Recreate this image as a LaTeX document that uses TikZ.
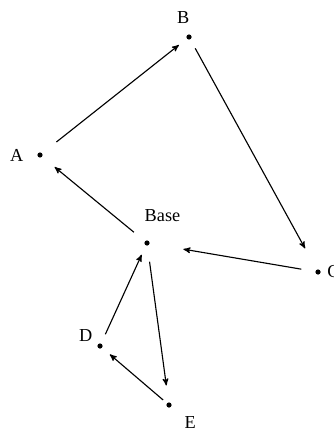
\documentclass[tikz,border=0pt]{standalone}
\usepackage{fontspec}
\setmainfont{Liberation Serif}
\usetikzlibrary{arrows,positioning}

\begin{document}
\begin{tikzpicture}[
    x=0.025cm, y=-0.025cm,
    stop/.style={circle, fill=black, inner sep=0pt, minimum size=0.13cm},
    lbl/.style={font=\fontsize{13}{15}\selectfont, inner sep=1pt},
    arrow/.style={->, >=stealth', thick}
]
\useasboundingbox (0,0) rectangle (334,433);

\node[stop] (A) at (40,155) {};
\node[stop] (B) at (189,37) {};
\node[stop] (C) at (318,272) {};
\node[stop] (base) at (147,243) {};
\node[stop] (D) at (100,346) {};
\node[stop] (E) at (169,405) {};

\node[lbl, left=0.3cm of A] {A};
\node[lbl, above left=0.25cm and -0.1cm of B] {B};
\node[lbl, right=0.12cm of C] {C};
\node[lbl, above right=0.45cm and -0.15cm of base] {Base};
\node[lbl, above left=0.02cm and 0.1cm of D] {D};
\node[lbl, below right=0.2cm and 0.3cm of E] {E};

\draw[arrow, shorten <=0.45cm, shorten >=0.25cm] (A) -- (B);
\draw[arrow, shorten <=0.25cm, shorten >=0.6cm] (B) -- (C);
\draw[arrow, shorten <=0.35cm, shorten >=0.85cm] (C) -- (base);
\draw[arrow, shorten <=0.35cm, shorten >=0.4cm] (base) -- (A);
\draw[arrow, shorten <=0.4cm, shorten >=0.42cm] (base) -- (E);
\draw[arrow, shorten <=0.12cm, shorten >=0.25cm] (E) -- (D);
\draw[arrow, shorten <=0.25cm, shorten >=0.25cm] (D) -- (base);

\end{tikzpicture}
\end{document}
